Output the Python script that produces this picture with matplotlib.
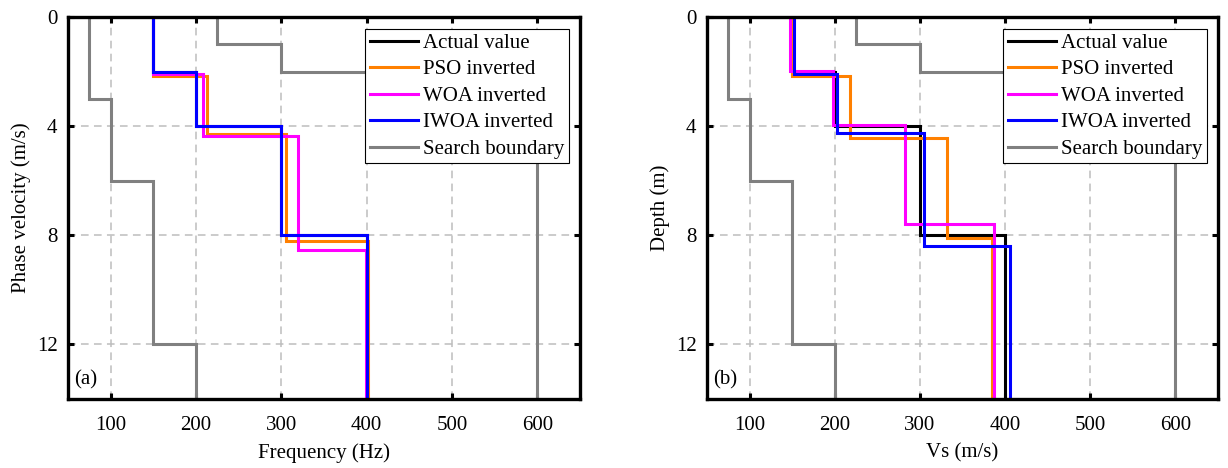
import matplotlib
matplotlib.use("Agg")
from matplotlib import pyplot as plt

plt.rcParams['font.family'] = ['Liberation Serif', 'DejaVu Serif']
plt.rcParams['font.size'] = 15

# layer velocities (m/s) and interface depths (m)
max_depth = 14
actual_vs = [150, 200, 300, 400]
actual_z = [2, 4, 8]

pso_a_vs = [150, 213, 305, 402]
pso_a_z = [2.15, 4.3, 8.2]
woa_a_vs = [150, 208, 319, 399]
woa_a_z = [2.1, 4.35, 8.55]
iwoa_a_vs = [150, 200, 300, 400]
iwoa_a_z = [2, 4, 8]

pso_b_vs = [150, 218, 332, 385]
pso_b_z = [2.15, 4.45, 8.1]
woa_b_vs = [148, 198, 282, 387]
woa_b_z = [1.97, 3.94, 7.6]
iwoa_b_vs = [152, 203, 305, 406]
iwoa_b_z = [2.1, 4.25, 8.4]

low_vs = [75, 100, 150, 200]
low_z = [3, 6, 12]
high_vs = [225, 300, 600]
high_z = [1, 2]

x_ticks = [100, 200, 300, 400, 500, 600]
y_ticks = [0, 4, 8, 12]

labels = ['Actual value', 'PSO inverted', 'WOA inverted', 'IWOA inverted', 'Search boundary']
colors = ['black', '#ff8000', '#ff00ff', '#0000ff', '#808080']


def profile(ax, vs, z, color, label=None):
    edges = [0] + list(z) + [max_depth]
    return ax.stairs(vs, edges, orientation='horizontal', baseline=None,
                     color=color, lw=2.2, label=label)


def panel(ax, models, tag, xlabel, ylabel):
    for (vs, z), color, label in zip(models, colors[:4], labels[:4]):
        profile(ax, vs, z, color, label)
    profile(ax, low_vs, low_z, colors[4], labels[4])
    profile(ax, high_vs, high_z, colors[4])

    ax.set_xlim(50, 650)
    ax.set_ylim(max_depth, 0)
    ax.set_xticks(x_ticks)
    ax.set_yticks(y_ticks)
    ax.set_axisbelow(True)
    ax.grid(True, color='#bdbdbd', ls=(0, (5, 3.5)), lw=1.1)
    ax.tick_params(direction='in', length=4, width=2.2, top=True, right=True,
                   labeltop=False, labelright=False)
    ax.tick_params(axis='x', pad=12)
    ax.tick_params(axis='y', pad=7.5)
    for sp in ax.spines.values():
        sp.set_linewidth(2.4)
    ax.set_xlabel(xlabel, labelpad=6.5)
    ax.set_ylabel(ylabel, labelpad=4.5)
    ax.text(0.012, 0.025, tag, transform=ax.transAxes, ha='left', va='bottom')
    leg = ax.legend(loc='upper right', bbox_to_anchor=(0.978, 0.969), fancybox=False,
                    framealpha=1, edgecolor='black', handlelength=2.3,
                    handletextpad=0.25, labelspacing=0.33, borderpad=0.22,
                    borderaxespad=0)
    leg.get_frame().set_linewidth(0.8)


fig = plt.figure(figsize=(12.28, 4.68), dpi=100)
ax1 = fig.add_axes([68 / 1228, 1 - 399 / 468, 512 / 1228, 382 / 468])
ax2 = fig.add_axes([707 / 1228, 1 - 399 / 468, 511 / 1228, 382 / 468])

panel(ax1, [(actual_vs, actual_z), (pso_a_vs, pso_a_z), (woa_a_vs, woa_a_z),
            (iwoa_a_vs, iwoa_a_z)], '(a)', 'Frequency (Hz)', 'Phase velocity (m/s)')
panel(ax2, [(actual_vs, actual_z), (pso_b_vs, pso_b_z), (woa_b_vs, woa_b_z),
            (iwoa_b_vs, iwoa_b_z)], '(b)', 'Vs (m/s)', 'Depth (m)')

fig.savefig('out.png', dpi=100)
